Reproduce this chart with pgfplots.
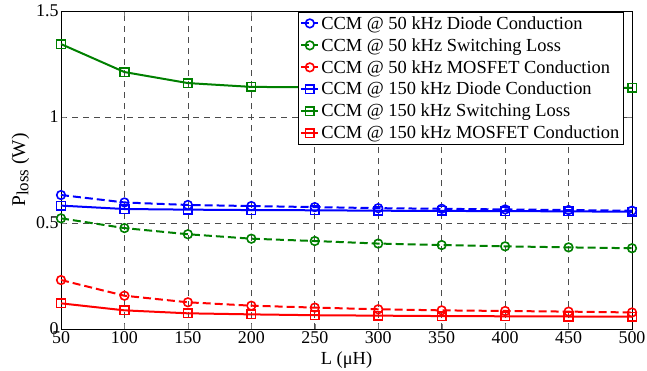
\documentclass[border=0pt]{standalone}
\usepackage{pgfplots}
\pgfplotsset{compat=1.18}
\usepackage{fontspec}
\setmainfont{Liberation Serif}
\definecolor{mblue}{rgb}{0,0,1}
\definecolor{mgreen}{rgb}{0,0.5,0}
\definecolor{mred}{rgb}{1,0,0}
\begin{document}
\begin{tikzpicture}
\begin{axis}[
  scale only axis,
  width=571bp, height=318bp,
  xmin=50, xmax=500, ymin=0, ymax=1.5,
  xtick={50,100,...,500},
  ytick={0,0.5,1,1.5},
  yticklabels={0,0.5,1,1.5},
  /pgf/number format/assume math mode=true,
  tick label style={font=\fontsize{18}{20}\selectfont},
  yticklabel style={xshift=1bp},
  xticklabel style={yshift=1bp},
  xlabel={L (μH)},
  ylabel={P\raisebox{-0.35ex}{\fontsize{17}{17}\selectfont loss} (W)},
  every axis x label/.style={at={(rel axis cs:0.5,-0.0975)}, anchor=center, font=\fontsize{18.5}{20}\selectfont},
  every axis y label/.style={at={(rel axis cs:-0.0709,0.5)}, anchor=center, rotate=90, font=\fontsize{19.5}{20}\selectfont},
  tick align=inside,
  major tick length=5bp,
  xtick pos=both, ytick pos=both,
  grid=major,
  major grid style={black!70, dash pattern=on 6bp off 5bp, line width=0.7bp},
  axis line style={line width=0.9bp},
  legend style={at={(rel axis cs:0.986,0.998)}, anchor=north east,
    font=\fontsize{18.5}{21}\selectfont, cells={anchor=west},
    inner sep=2.2bp, row sep=3.7bp, line width=0.9bp, fill=white, draw=black},
  every axis plot/.append style={line width=2bp, mark size=4.3bp,
    mark options={solid, line width=1.6bp}},
]
\coordinate (ll) at (rel axis cs:0,0);
\coordinate (ur) at (rel axis cs:1,1);
\addplot[mblue, dash pattern=on 8bp off 4bp, mark=o] coordinates {
(50,0.632)(100,0.597)(150,0.585)(200,0.580)(250,0.575)(300,0.570)(350,0.567)(400,0.564)(450,0.561)(500,0.558)};
\addlegendentry{CCM @ 50 kHz Diode Conduction}
\addplot[mgreen, dash pattern=on 8bp off 4bp, mark=o] coordinates {
(50,0.522)(100,0.476)(150,0.447)(200,0.426)(250,0.415)(300,0.403)(350,0.396)(400,0.390)(450,0.385)(500,0.381)};
\addlegendentry{CCM @ 50 kHz Switching Loss}
\addplot[mred, dash pattern=on 8bp off 4bp, mark=o] coordinates {
(50,0.231)(100,0.157)(150,0.126)(200,0.110)(250,0.101)(300,0.093)(350,0.088)(400,0.085)(450,0.082)(500,0.078)};
\addlegendentry{CCM @ 50 kHz MOSFET Conduction}
\addplot[mblue, mark=square] coordinates {
(50,0.582)(100,0.566)(150,0.563)(200,0.561)(250,0.560)(300,0.558)(350,0.557)(400,0.556)(450,0.555)(500,0.553)};
\addlegendentry{CCM @ 150 kHz Diode Conduction}
\addplot[mgreen, mark=square] coordinates {
(50,1.344)(100,1.212)(150,1.160)(200,1.142)(250,1.140)(300,1.139)(350,1.138)(400,1.138)(450,1.137)(500,1.137)};
\addlegendentry{CCM @ 150 kHz Switching Loss}
\addplot[mred, mark=square] coordinates {
(50,0.121)(100,0.088)(150,0.074)(200,0.069)(250,0.065)(300,0.063)(350,0.061)(400,0.060)(450,0.059)(500,0.058)};
\addlegendentry{CCM @ 150 kHz MOSFET Conduction}
\end{axis}
\pgfresetboundingbox
\path ([shift={(-61bp,-41bp)}]ll) rectangle ([shift={(15bp,11bp)}]ur);
\end{tikzpicture}
\end{document}
